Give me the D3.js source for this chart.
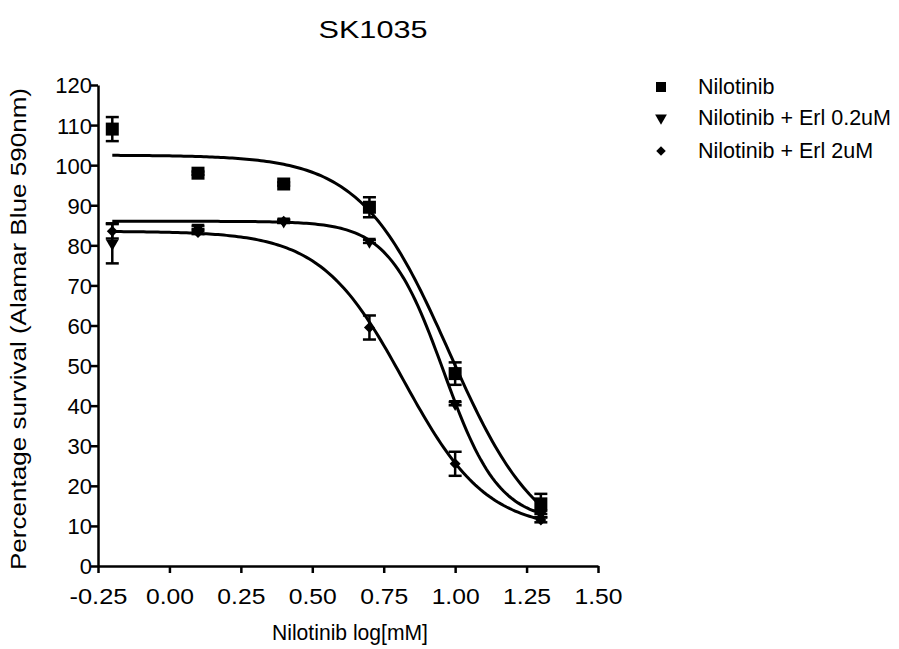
<!DOCTYPE html>
<html>
<head>
<meta charset="utf-8">
<script src="https://cdn.jsdelivr.net/npm/d3@7"></script>
<style>
  body { margin: 0; background: #fff; }
  text { font-family: "Liberation Sans", Arial, sans-serif; fill: #000; }
</style>
</head>
<body>
<svg id="chart" width="899" height="649"></svg>
<script>
// concentrations (log mM)
const doses = [-0.2, 0.1, 0.4, 0.7, 1.0, 1.3];

const seriesNames = ["Nilotinib", "Nilotinib + Erl 0.2uM", "Nilotinib + Erl 2uM"];
const seriesSymbols = ["square", "triangle", "diamond"];

// mean survival per dose
const nilotinibMean = [109, 98, 95.3, 89.5, 48, 15.5];
const erl02Mean = [80.5, 84.5, 86, 81, 40.5, 13];
const erl2Mean = [83.5, 83.2, 86, 59.5, 25.5, 11.5];

// SEM per dose
const nilotinibErr = [3, 0.4, 0.4, 2.5, 2.8, 2.5];
const erl02Err = [5, 0.4, 0.4, 0.4, 0.4, 0.8];
const erl2Err = [1.8, 0.4, 0.4, 3, 3, 0.6];

// fitted 4PL parameters: top, bottom, logIC50, hill
const nilotinibFit = [102.5, 4, 0.98, 2.8];
const erl02Fit = [86, 11, 0.96, 4.5];
const erl2Fit = [83.5, 9, 0.82, 3];

const xTicks = [-0.25, 0, 0.25, 0.5, 0.75, 1.0, 1.25, 1.5];
const yTicks = d3.range(0, 121, 10);

const means = [nilotinibMean, erl02Mean, erl2Mean];
const errs = [nilotinibErr, erl02Err, erl2Err];
const fits = [nilotinibFit, erl02Fit, erl2Fit];

const svg = d3.select("#chart");
const x = d3.scaleLinear().domain([-0.25, 1.5]).range([98, 598]);
const y = d3.scaleLinear().domain([0, 120]).range([566, 85]);

function fourPL(p, v) {
  const [top, bottom, ic50, hill] = p;
  return bottom + (top - bottom) / (1 + Math.pow(10, (v - ic50) * hill));
}

// title
svg.append("text")
  .attr("x", 373).attr("y", 38)
  .attr("text-anchor", "middle")
  .attr("font-size", 24)
  .attr("textLength", 109)
  .attr("lengthAdjust", "spacingAndGlyphs")
  .text("SK1035");

// axes
const fmtX = v => d3.format(".2f")(v).replace("\u2212", "-");
const xAxis = svg.append("g")
  .attr("transform", `translate(0,${y(0)})`)
  .call(d3.axisBottom(x).tickValues(xTicks).tickFormat(fmtX).tickSize(7).tickSizeOuter(0));
const yAxis = svg.append("g")
  .attr("transform", `translate(${x(-0.25)},0)`)
  .call(d3.axisLeft(y).tickValues(yTicks).tickFormat(d3.format("d")).tickSize(7).tickSizeOuter(0));

[xAxis, yAxis].forEach(g => {
  g.select(".domain").attr("stroke", "#000").attr("stroke-width", 2.5);
  g.selectAll(".tick line").attr("stroke", "#000").attr("stroke-width", 2.5);
  g.selectAll(".tick text")
    .attr("font-size", 22)
    .attr("font-family", "Liberation Sans, Arial, sans-serif")
    .attr("fill", "#000");
});
xAxis.selectAll(".tick text").attr("y", 10).attr("dy", 28).attr("textLength", 58).attr("lengthAdjust", "spacingAndGlyphs");
xAxis.selectAll(".tick text").filter(d => d >= 0).attr("textLength", 48);
yAxis.selectAll(".tick text").attr("x", -6).attr("dy", "0.36em");

// axis titles
svg.append("text")
  .attr("x", 350).attr("y", 640)
  .attr("text-anchor", "middle")
  .attr("font-size", 21.5)
  .attr("textLength", 156)
  .attr("lengthAdjust", "spacingAndGlyphs")
  .text("Nilotinib log[mM]");
svg.append("text")
  .attr("transform", `translate(26,329) rotate(-90)`)
  .attr("text-anchor", "middle")
  .attr("font-size", 22)
  .attr("textLength", 482)
  .attr("lengthAdjust", "spacingAndGlyphs")
  .text("Percentage survival (Alamar Blue 590nm)");

// fitted curves
const line = d3.line().x(d => x(d[0])).y(d => y(d[1]));
const curveX = d3.range(-0.2, 1.3001, 0.01);
fits.forEach(p => {
  svg.append("path")
    .attr("d", line(curveX.map(v => [v, fourPL(p, v)])))
    .attr("fill", "none")
    .attr("stroke", "#000")
    .attr("stroke-width", 3);
});

// symbols (diamond = square turned 45deg, like Prism)
const symbolType = { square: d3.symbolSquare, triangle: d3.symbolTriangle, diamond: d3.symbolSquare };
const symbolSize = { square: 169, triangle: 70, diamond: 60 };

function symbolPath(kind, size, cx, cy, g) {
  const rot = kind === "triangle" ? 180 : kind === "diamond" ? 45 : 0;
  return g.append("path")
    .attr("d", d3.symbol().type(symbolType[kind]).size(size)())
    .attr("fill", "#000")
    .attr("transform", `translate(${cx},${cy}) rotate(${rot})`);
}

means.forEach((m, si) => {
  const g = svg.append("g");
  doses.forEach((d, i) => {
    const cx = x(d);
    const e = errs[si][i];
    const yt = y(m[i] + e), yb = y(m[i] - e);
    g.append("line").attr("x1", cx).attr("x2", cx).attr("y1", yt).attr("y2", yb)
      .attr("stroke", "#000").attr("stroke-width", 2.5);
    [yt, yb].forEach(v => g.append("line")
      .attr("x1", cx - 6.5).attr("x2", cx + 6.5).attr("y1", v).attr("y2", v)
      .attr("stroke", "#000").attr("stroke-width", 2.5));
    symbolPath(seriesSymbols[si], symbolSize[seriesSymbols[si]], cx, y(m[i]), g);
  });
});

// legend
const legend = svg.append("g");
const legendY = [87, 118, 151];
const legendSize = { square: 100, triangle: 60, diamond: 45 };
seriesNames.forEach((name, i) => {
  const kind = seriesSymbols[i];
  symbolPath(kind, legendSize[kind], 661, legendY[i], legend);
  legend.append("text")
    .attr("x", 698).attr("y", legendY[i] + 7)
    .attr("font-size", 21.5)
    .text(name);
});
</script>
</body>
</html>
